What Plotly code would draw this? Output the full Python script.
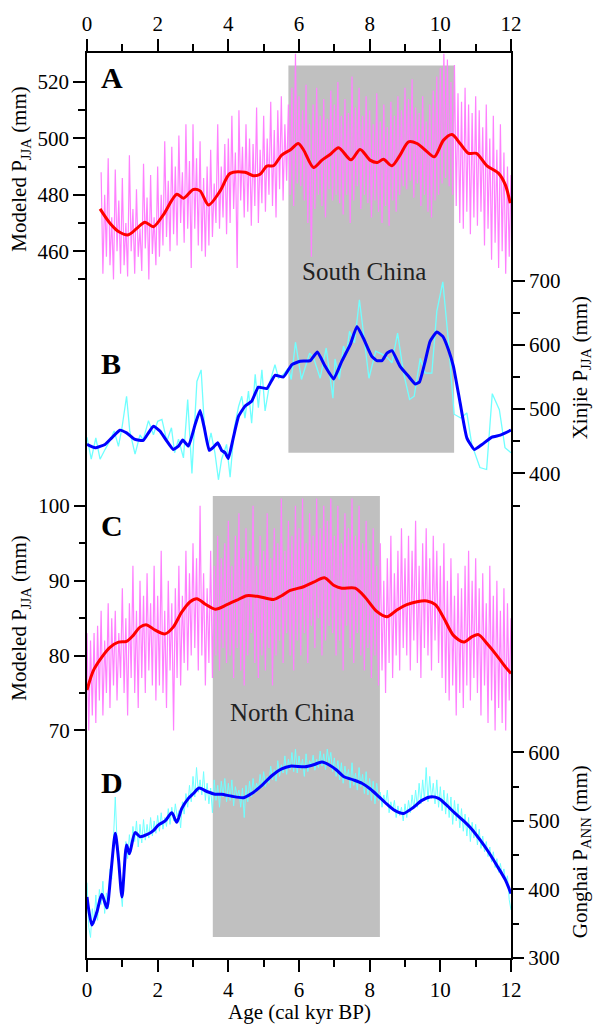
import plotly.graph_objects as go

FONT = "Liberation Serif"

# ---------------- data ----------------
age_major = [0, 2, 4, 6, 8, 10, 12]
age_minor = [1, 3, 5, 7, 9, 11]

# Panel A : modeled JJA precipitation, South China (raw, every 0.05 kyr from 0.40)
a_raw_start = 0.40
a_raw_step = 0.05
a_raw = [488, 452, 480, 458, 493, 455, 472, 450, 489, 460, 478, 452,
         486, 455, 470, 451, 494, 460, 475, 452, 482, 458, 468, 453, 491, 461, 479, 450, 487, 459, 472, 455,
         490, 458, 480, 462, 499, 465, 485, 460, 497, 466, 490, 462, 501, 470, 488, 463, 505, 468, 492, 454,
         505, 468, 493, 462, 499, 460, 486, 458, 490, 462, 496, 465, 484, 470, 505, 468, 490, 472, 498, 466,
         500, 470, 508, 475, 495, 454, 510, 478, 497, 472, 505, 474, 500, 469, 498, 476, 511, 470, 496, 477,
         508, 474, 500, 480, 513, 476, 503, 472, 510, 482, 515, 478, 505, 485, 512, 480, 518, 476, 530, 484,
         515, 483, 510, 478, 519, 470, 505, 458, 512, 475, 518, 480, 508, 476, 514, 472, 507, 482, 517, 478,
         512, 480, 520, 477, 508, 473, 514, 480, 509, 470, 522, 478, 511, 483, 518, 475, 508, 480, 515, 477,
         510, 472, 505, 478, 516, 474, 506, 470, 512, 476, 504, 469, 513, 478, 508, 474, 515, 480, 510, 483,
         518, 482, 514, 485, 521, 479, 511, 484, 509, 476, 515, 480, 506, 474, 512, 472, 517, 478, 522, 480,
         525, 484, 530, 486, 528, 483, 520, 480, 526, 476, 516, 470, 513, 468, 518, 474, 512, 466, 509, 472,
         515, 469, 510, 474, 504, 462, 512, 468, 500, 457, 508, 463, 496, 454, 505, 460, 495, 452, 490, 458, 487]
a_smooth_age = [0.37, 0.65, 0.89, 1.17, 1.41, 1.64, 1.88, 2.16, 2.54, 2.73, 3.01, 3.20, 3.44, 3.77, 4.05,
                4.47, 4.71, 4.90, 5.09, 5.28, 5.51, 5.75, 5.98, 6.13, 6.41, 6.65, 6.88, 7.12, 7.47, 7.73,
                8.01, 8.22, 8.39, 8.63, 8.86, 9.10, 9.34, 9.57, 9.83, 10.09, 10.33, 10.56, 10.80, 11.02,
                11.32, 11.65, 11.84, 11.98]
a_smooth = [475, 469.9, 467, 465.8, 468.1, 470.3, 468.7, 472.9, 480.2, 478.8, 481.9, 481.4, 476.4, 481.4,
            487.6, 488.0, 486.8, 487.3, 490.2, 490.3, 494.1, 495.9, 498.2, 495.9, 489.7, 492.3, 494.3,
            496.7, 492.4, 496.1, 492.3, 491.5, 492.6, 490.3, 494.1, 498.8, 498.2, 495.9, 493.5, 499.4,
            501.4, 498.2, 494.7, 494.7, 490.3, 487.6, 483.5, 477]

# Panel B : Xinjie JJA precipitation
b_raw_age = [0.00, 0.12, 0.25, 0.37, 0.51, 0.62, 0.77, 0.89, 0.99, 1.12, 1.21, 1.36, 1.50, 1.59, 1.74,
             1.88, 2.00, 2.12, 2.26, 2.39, 2.48, 2.59, 2.73, 2.85, 2.97, 3.11, 3.23, 3.32, 3.42, 3.51,
             3.62, 3.72, 3.81, 3.95, 4.05, 4.17, 4.29, 4.38, 4.47, 4.57, 4.66, 4.76, 4.85, 4.95, 5.04,
             5.18, 5.32, 5.42, 5.56, 5.70, 5.78, 5.90, 6.07, 6.30, 6.41, 6.60, 6.77, 6.96, 7.02, 7.14,
             7.26, 7.34, 7.43, 7.57, 7.71, 7.85, 7.98, 8.17, 8.36, 8.50, 8.63, 8.79, 8.96, 9.13, 9.26,
             9.43, 9.57, 9.76, 9.90, 10.07, 10.23, 10.39, 10.58, 10.75, 10.89, 11.12, 11.31, 11.47,
             11.67, 11.83, 12.00]
b_raw = [456, 422, 455, 422, 437, 448, 466, 442, 471, 520, 466, 430, 460, 452, 482,
         460, 481, 484, 450, 471, 432, 453, 424, 515, 400, 543, 561, 476, 440, 463,
         432, 390, 422, 445, 394, 471, 504, 520, 486, 528, 478, 554, 502, 561, 497,
         543, 569, 548, 554, 564, 546, 604, 546, 587, 580, 548, 595, 517, 578, 546,
         598, 585, 621, 603, 670, 605, 548, 590, 585, 580, 572, 618, 556, 515, 520,
         579, 556, 556, 652, 698, 605, 492, 486, 494, 445, 409, 406, 524,
         499, 440, 432]
b_smooth_age = [0.00, 0.23, 0.51, 0.70, 0.93, 1.12, 1.36, 1.59, 1.74, 1.88, 2.07, 2.26, 2.44, 2.59, 2.71,
                2.87, 3.06, 3.20, 3.32, 3.46, 3.58, 3.70, 3.81, 3.91, 4.00, 4.14, 4.29, 4.47, 4.66, 4.85,
                5.09, 5.32, 5.56, 5.80, 6.03, 6.32, 6.52, 6.74, 6.98, 7.21, 7.45, 7.64, 7.82, 8.06, 8.20,
                8.35, 8.49, 8.63, 8.86, 9.10, 9.29, 9.41, 9.57, 9.71, 9.90, 10.07, 10.23, 10.37, 10.56,
                10.75, 10.96, 11.18, 11.46, 11.70, 12.00]
b_smooth = [445, 439.7, 445, 455.2, 467.2, 463, 452.7, 451.2, 463, 473.4, 465.6, 450.1, 437.2, 442.4,
            451.7, 442.4, 476, 497.7, 470.8, 435.7, 440.8, 447.5, 435.7, 432, 423.2, 455.2, 488.9, 504.4,
            512.2, 534.1, 531.9, 552.6, 550, 569.2, 574.3, 575.4, 588.8, 566.5, 546.8, 574.3, 600.2,
            628.6, 610.5, 582, 575.4, 575.4, 587.2, 590.9, 566.5, 551, 539, 542.2, 574.3, 605.3, 619.8,
            613.1, 592.4, 566.5, 509.6, 455.2, 437.2, 445, 456.3, 459.4, 467.2]

# Panel C : modeled JJA precipitation, North China (raw, every 0.05 kyr from 0.00)
c_raw_start = 0.00
c_raw_step = 0.05
c_raw = [83, 70, 82, 72, 83, 71, 84, 74, 86, 72, 82, 75, 87, 73, 85, 76, 86, 74, 83, 77,
         89, 75, 85, 72, 87, 77, 92, 75, 86, 73, 90, 77, 88, 75, 91, 78, 87, 76, 92, 74,
         88, 76, 94, 75, 86, 73, 90, 78, 87, 70, 89, 77, 92, 76, 88, 79, 94, 78, 91, 80,
         95, 81, 93, 78, 100, 80, 91, 76, 89, 79, 94, 77, 92, 80, 96, 78, 93, 81, 95, 79,
         98, 80, 92, 77, 96, 81, 99, 78, 93, 76, 97, 80, 94, 83, 100, 79, 92, 77, 96, 80,
         94, 78, 99, 81, 93, 76, 97, 80, 95, 82, 101, 79, 94, 83, 98, 80, 96, 78, 100, 82,
         97, 80, 101, 83, 95, 79, 99, 84, 96, 81, 101, 85, 97, 80, 100, 82, 98, 84, 101, 83,
         96, 80, 100, 82, 95, 78, 99, 84, 97, 81, 101, 79, 96, 83, 100, 80, 95, 78, 98, 81,
         94, 77, 97, 80, 92, 76, 95, 78, 90, 75, 93, 79, 96, 77, 91, 80, 94, 78, 97, 81,
         93, 80, 96, 78, 94, 82, 98, 79, 92, 77, 95, 81, 97, 80, 93, 78, 96, 82, 94, 79,
         92, 77, 95, 75, 90, 74, 93, 76, 88, 72, 91, 75, 89, 73, 92, 76, 94, 74, 90, 77,
         93, 75, 89, 72, 91, 76, 87, 71, 92, 74, 88, 70, 90, 73, 86, 71, 89, 70, 87, 74, 85]
c_smooth_age = [0.00, 0.18, 0.42, 0.65, 0.89, 1.12, 1.31, 1.50, 1.69, 1.93, 2.21, 2.44, 2.68, 2.92, 3.11,
                3.34, 3.63, 3.96, 4.24, 4.52, 4.85, 5.28, 5.51, 5.75, 6.13, 6.41, 6.72, 6.98, 7.21, 7.59,
                7.87, 8.20, 8.49, 8.77, 9.05, 9.34, 9.62, 9.86, 10.09, 10.37, 10.66, 10.89, 11.08, 11.32,
                11.60, 11.84, 12.00]
c_smooth = [75.4, 78, 79.8, 81.1, 81.8, 81.9, 82.7, 83.8, 84.1, 83.4, 82.9, 83.8, 85.8, 87.2, 87.6,
            86.9, 86.2, 86.8, 87.4, 88, 87.9, 87.5, 88, 88.7, 89.2, 89.8, 90.4, 89.4, 89.0, 89.0,
            87.8, 85.9, 85.2, 86.1, 86.8, 87.2, 87.3, 86.8, 85.1, 82.7, 81.8, 82.5, 82.8, 81.6,
            80.0, 78.5, 77.6]

# Panel D : Gonghai annual precipitation (raw, every 0.05 kyr from 0.00)
d_raw_start = 0.00
d_raw_step = 0.05
d_raw = [410, 345, 330, 372, 350, 392, 355, 400, 378, 412, 365, 395, 372, 430, 415, 488, 535, 470, 455, 400,
         375, 430, 470, 445, 480, 455, 492, 470, 500, 462, 495, 468, 502, 472, 495, 475, 505, 478, 500, 482,
         508, 485, 512, 488, 505, 492, 518, 495, 520, 500, 525, 506, 515, 490, 528, 510, 540, 520, 552, 528,
         565, 535, 578, 542, 560, 538, 572, 530, 555, 525, 548, 512, 560, 530, 552, 520, 558, 535, 562, 528,
         555, 530, 560, 522, 550, 535, 545, 520, 548, 505, 552, 528, 558, 535, 562, 540, 555, 545, 568, 548,
         572, 550, 565, 555, 580, 560, 575, 558, 588, 565, 582, 570, 595, 568, 590, 575, 600, 572, 605, 570,
         595, 575, 590, 565, 598, 572, 588, 580, 596, 574, 590, 578, 602, 580, 598, 575, 605, 585, 600, 572,
         592, 565, 588, 560, 585, 555, 580, 560, 575, 548, 585, 552, 570, 545, 578, 550, 568, 540, 572, 538,
         562, 530, 558, 525, 555, 530, 542, 520, 538, 525, 545, 512, 528, 515, 530, 505, 522, 508, 520, 500,
         525, 505, 530, 512, 538, 518, 545, 520, 555, 525, 560, 530, 578, 528, 565, 532, 555, 525, 560, 520,
         550, 515, 545, 510, 540, 505, 535, 495, 530, 500, 525, 490, 518, 485, 510, 478, 505, 470, 498, 475,
         495, 465, 488, 460, 478, 455, 470, 448, 462, 440, 455, 432, 445, 425, 438, 420, 430, 410, 420, 385, 370]
d_smooth_age = [0.00, 0.14, 0.28, 0.42, 0.56, 0.68, 0.80, 0.89, 0.99, 1.12, 1.20, 1.36, 1.50, 1.69, 1.88,
                2.02, 2.21, 2.40, 2.54, 2.68, 2.87, 3.01, 3.17, 3.39, 3.63, 3.81, 4.10, 4.43, 4.66, 4.95,
                5.23, 5.51, 5.75, 6.17, 6.41, 6.65, 6.88, 7.07, 7.26, 7.54, 7.78, 8.01, 8.25, 8.48, 8.72,
                8.96, 9.19, 9.48, 9.71, 9.95, 10.18, 10.42, 10.66, 10.89, 11.13, 11.36, 11.60, 11.84, 12.00]
d_smooth = [389, 348, 367, 393, 373, 426, 482, 445, 389, 465, 452, 483, 477, 480, 486,
            494, 500, 512, 498, 518, 533, 540, 548, 543, 539, 539, 536, 534, 540, 552,
            566, 576, 580, 579, 582, 586, 581, 574, 565, 560, 555, 547, 536, 525, 515,
            511, 518, 530, 535, 533, 523, 511, 500, 488, 472, 455, 435, 414, 394]

# shaded intervals (kyr BP)
south_box = [5.70, 10.39]
north_box = [3.56, 8.29]

# tick values
a_ticks, a_minor = [460, 480, 500, 520], [450, 470, 490, 510]
b_ticks, b_minor = [400, 500, 600, 700], [350, 450, 550, 650]
c_ticks, c_minor = [70, 80, 90, 100], [75, 85, 95]
d_ticks, d_minor = [300, 400, 500, 600], [350, 450, 550]


def grid(start, step, n):
    return [round(start + i * step, 3) for i in range(n)]


# ---------------- layout geometry ----------------
W, H = 595, 1024
L, R, T, B = 87, 84, 51, 66
PW, PH = W - L - R, H - T - B


def xp(px):
    return (px - L) / PW


def yp(py):
    return (H - B - py) / PH


PINK, RED, CYAN, BLUE = "#FF80FF", "#FF0000", "#70FFFF", "#0000FF"

fig = go.Figure()

fig.add_trace(go.Scatter(x=grid(a_raw_start, a_raw_step, len(a_raw)), y=a_raw, mode="lines",
                         line=dict(color=PINK, width=1.2), yaxis="y", hoverinfo="skip"))
fig.add_trace(go.Scatter(x=a_smooth_age, y=a_smooth, mode="lines",
                         line=dict(color=RED, width=3, shape="spline", smoothing=0.8), yaxis="y"))
fig.add_trace(go.Scatter(x=b_raw_age, y=b_raw, mode="lines",
                         line=dict(color=CYAN, width=1.3), yaxis="y2", hoverinfo="skip"))
fig.add_trace(go.Scatter(x=b_smooth_age, y=b_smooth, mode="lines",
                         line=dict(color=BLUE, width=3, shape="spline", smoothing=0.4), yaxis="y2"))
fig.add_trace(go.Scatter(x=grid(c_raw_start, c_raw_step, len(c_raw)), y=c_raw, mode="lines",
                         line=dict(color=PINK, width=1.2), yaxis="y3", hoverinfo="skip"))
fig.add_trace(go.Scatter(x=c_smooth_age, y=c_smooth, mode="lines",
                         line=dict(color=RED, width=3, shape="spline", smoothing=0.8), yaxis="y3"))
fig.add_trace(go.Scatter(x=grid(d_raw_start, d_raw_step, len(d_raw)), y=d_raw, mode="lines",
                         line=dict(color=CYAN, width=1), yaxis="y4", hoverinfo="skip"))
fig.add_trace(go.Scatter(x=d_smooth_age, y=d_smooth, mode="lines",
                         line=dict(color=BLUE, width=3, shape="spline", smoothing=0.7), yaxis="y4"))
# invisible trace so the top axis gets drawn
fig.add_trace(go.Scatter(x=[0, 12], y=[500, 500], mode="markers", marker=dict(opacity=0),
                         xaxis="x2", yaxis="y", hoverinfo="skip"))

tickfont = dict(family=FONT, size=21, color="black")
common = dict(showgrid=False, zeroline=False, linecolor="black", linewidth=1.5,
              ticks="outside", ticklen=12, tickwidth=1.5, tickcolor="black", tickfont=tickfont)


def minor(vals):
    return dict(tickvals=vals, ticks="outside", ticklen=7, tickwidth=1.5, tickcolor="black", showgrid=False)


fig.update_layout(
    width=W, height=H, margin=dict(l=L, r=R, t=T, b=B, pad=0),
    paper_bgcolor="white", plot_bgcolor="white", showlegend=False,
    font=dict(family=FONT, color="black"),
    xaxis=dict(range=[0, 12], tickvals=age_major, minor=minor(age_minor), showline=True,
               anchor="y", side="bottom", **common),
    xaxis2=dict(range=[0, 12], tickvals=age_major, minor=minor(age_minor), showline=True,
                anchor="y", side="top", overlaying="x", **common),
    yaxis=dict(range=[209.3, 530.3], tickvals=a_ticks, minor=minor(a_minor), showline=True,
               side="left", anchor="x", **common),
    yaxis2=dict(range=[-353.9, 1053.9], tickvals=b_ticks, minor=minor(b_minor), showline=True,
                side="right", anchor="x", overlaying="y", **common),
    yaxis3=dict(range=[39.6, 160.5], tickvals=c_ticks, minor=minor(c_minor), showline=False,
                side="left", anchor="x", overlaying="y", **common),
    yaxis4=dict(range=[300, 1620.8], tickvals=d_ticks, minor=minor(d_minor), showline=False,
                side="right", anchor="x", overlaying="y", **common),
)

# shaded boxes
fig.add_shape(type="rect", xref="x", yref="paper", x0=south_box[0], x1=south_box[1],
              y0=yp(451.7), y1=yp(63.5), fillcolor="#C0C0C0", line=dict(width=0), layer="below")
fig.add_shape(type="rect", xref="x", yref="paper", x0=north_box[0], x1=north_box[1],
              y0=yp(937), y1=yp(495), fillcolor="#C0C0C0", line=dict(width=0), layer="below")


def ann(text, px, py, size=21, angle=0, bold=False, color="black", xanchor="center"):
    t = f"<b>{text}</b>" if bold else text
    fig.add_annotation(text=t, x=xp(px), y=yp(py), xref="paper", yref="paper", showarrow=False,
                       textangle=angle, xanchor=xanchor, yanchor="middle",
                       font=dict(family=FONT, size=size, color=color))


ann("A", 99, 76, size=30, bold=True, xanchor="left")
ann("B", 99, 362, size=30, bold=True, xanchor="left")
ann("C", 99, 525, size=30, bold=True, xanchor="left")
ann("D", 99, 782, size=30, bold=True, xanchor="left")
ann("South China", 364, 270, size=25, color="#222222")
ann("North China", 292, 712, size=25, color="#222222")
ann("Modeled P<sub>JJA</sub> (mm)", 20, 167, angle=-90)
ann("Modeled P<sub>JJA</sub> (mm)", 20, 617, angle=-90)
ann("Xinjie P<sub>JJA</sub> (mm)", 581, 367, angle=-90)
ann("Gonghai P<sub>ANN</sub> (mm)", 581, 852, angle=-90)
ann("Age (cal kyr BP)", 299, 1012)

fig.write_html("out.html")
